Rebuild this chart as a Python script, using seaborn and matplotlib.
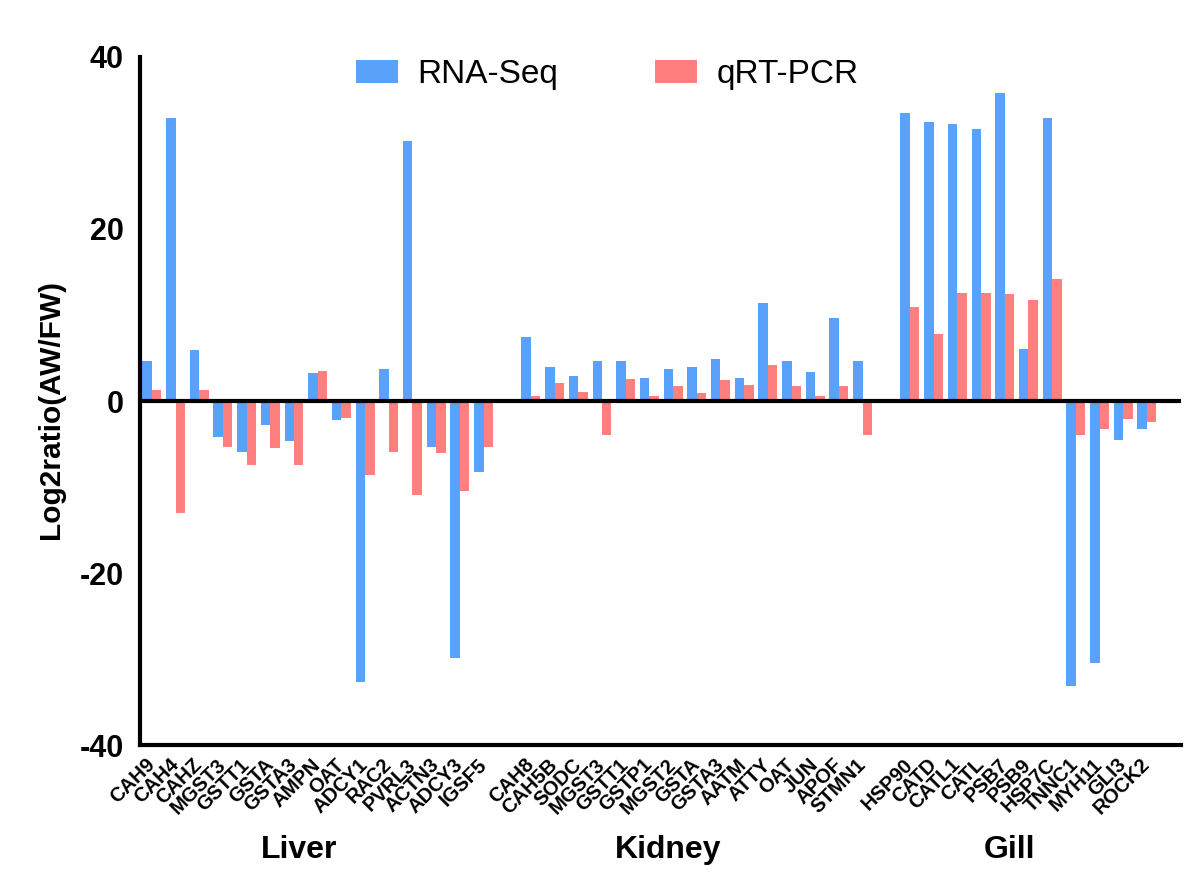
import pandas as pd
import seaborn as sns
import matplotlib.pyplot as plt
from matplotlib.transforms import blended_transform_factory

liver_genes = ['CAH9', 'CAH4', 'CAHZ', 'MGST3', 'GSTT1', 'GSTA', 'GSTA3', 'AMPN',
               'OAT', 'ADCY1', 'RAC2', 'PVRL3', 'ACTN3', 'ADCY3', 'IGSF5']
liver_rna = [4.7, 32.9, 5.9, -4.2, -5.9, -2.8, -4.6, 3.2, -2.2, -32.7, 3.7, 30.2, -5.4, -29.9, -8.2]
liver_pcr = [1.3, -13.0, 1.3, -5.3, -7.5, -5.5, -7.5, 3.5, -2.0, -8.6, -5.9, -10.9, -6.0, -10.5, -5.3]

kidney_genes = ['CAH8', 'CAH5B', 'SODC', 'MGST3', 'GSTT1', 'GSTP1', 'MGST2', 'GSTA',
                'GSTA3', 'AATM', 'ATTY', 'OAT', 'JUN', 'APOF', 'STMN1']
kidney_rna = [7.4, 3.9, 2.9, 4.6, 4.7, 2.7, 3.7, 4.0, 4.9, 2.7, 11.4, 4.6, 3.4, 9.6, 4.6]
kidney_pcr = [0.6, 2.1, 1.0, -4.0, 2.6, 0.6, 1.8, 0.9, 2.4, 1.9, 4.2, 1.8, 0.6, 1.7, -3.9]

gill_genes = ['HSP90', 'CATD', 'CATL1', 'CATL', 'PSB7', 'PSB9', 'HSP7C', 'TNNC1',
              'MYH11', 'GLI3', 'ROCK2']
gill_rna = [33.5, 32.4, 32.2, 31.6, 35.8, 6.1, 32.9, -33.1, -30.5, -4.5, -3.2]
gill_pcr = [10.9, 7.8, 12.6, 12.6, 12.4, 11.8, 14.2, -4.0, -3.2, -2.1, -2.4]

tissues = ['Liver', 'Kidney', 'Gill']
colors = {'RNA-Seq': '#59A1FA', 'qRT-PCR': '#FF7F7F'}

rows = []
order = []
labels = []
centers = []
groups = [(liver_genes, liver_rna, liver_pcr),
          (kidney_genes, kidney_rna, kidney_pcr),
          (gill_genes, gill_rna, gill_pcr)]
for i, (tissue, (genes, rna, pcr)) in enumerate(zip(tissues, groups)):
    if i > 0:
        order.append(f'gap{i}')
        labels.append('')
    start = len(order)
    for g, r, p in zip(genes, rna, pcr):
        key = f'{tissue}_{g}'
        order.append(key)
        labels.append(g)
        rows.append({'key': key, 'series': 'RNA-Seq', 'value': r})
        rows.append({'key': key, 'series': 'qRT-PCR', 'value': p})
    centers.append((start + len(order) - 1) / 2)
df = pd.DataFrame(rows)

sns.set_theme(style='white')
plt.rcParams['font.family'] = ['Liberation Sans', 'DejaVu Sans']
for k in ['text.color', 'axes.labelcolor', 'xtick.color', 'ytick.color']:
    plt.rcParams[k] = 'black'

fig = plt.figure(figsize=(12, 8.96), dpi=100)
ax = fig.add_axes([140 / 1200, 1 - 745 / 896, (1181 - 140) / 1200, (745 - 57) / 896])

sns.barplot(data=df, x='key', y='value', hue='series', order=order,
            hue_order=['RNA-Seq', 'qRT-PCR'], palette=colors, saturation=1,
            width=0.8, errorbar=None, linewidth=0, ax=ax)

ax.axhline(0, color='black', lw=3, zorder=5)
ax.set_xlim(-0.5, 43.44)
ax.set_ylim(-40, 40)
ax.set_yticks([-40, -20, 0, 20, 40])
ax.set_yticklabels(['-40', '-20', '0', '20', '40'], fontsize=22, fontweight='bold')
ax.set_xticks(range(len(order)))
ax.set_xticklabels(labels, rotation=45, ha='right', va='center',
                   rotation_mode='anchor', fontsize=14.5, fontweight='bold')
ax.tick_params(axis='x', length=0, pad=12)
ax.tick_params(axis='y', length=8.6, width=3, direction='out', pad=3)
for s in ['top', 'right']:
    ax.spines[s].set_visible(False)
for s in ['left', 'bottom']:
    ax.spines[s].set_linewidth(3)
    ax.spines[s].set_color('black')

ax.set_xlabel('')
ax.set_ylabel('Log2ratio(AW/FW)', fontsize=21.5, fontweight='bold')
ax.yaxis.set_label_coords(-0.072, 0.487)

trans = blended_transform_factory(ax.transData, ax.transAxes)
offsets = [-0.8, -1.2, -0.8]
for tissue, c, off in zip(tissues, centers, offsets):
    ax.text(c + off, -0.153, tissue, transform=trans, ha='center', va='center',
            fontsize=23, fontweight='bold')

ax.legend(loc='upper center', bbox_to_anchor=(0.449, 1.04), ncol=2, frameon=False,
          fontsize=24, handlelength=1.25, handleheight=0.7, columnspacing=2.9,
          handletextpad=0.6)

fig.savefig('out.png', dpi=100)
